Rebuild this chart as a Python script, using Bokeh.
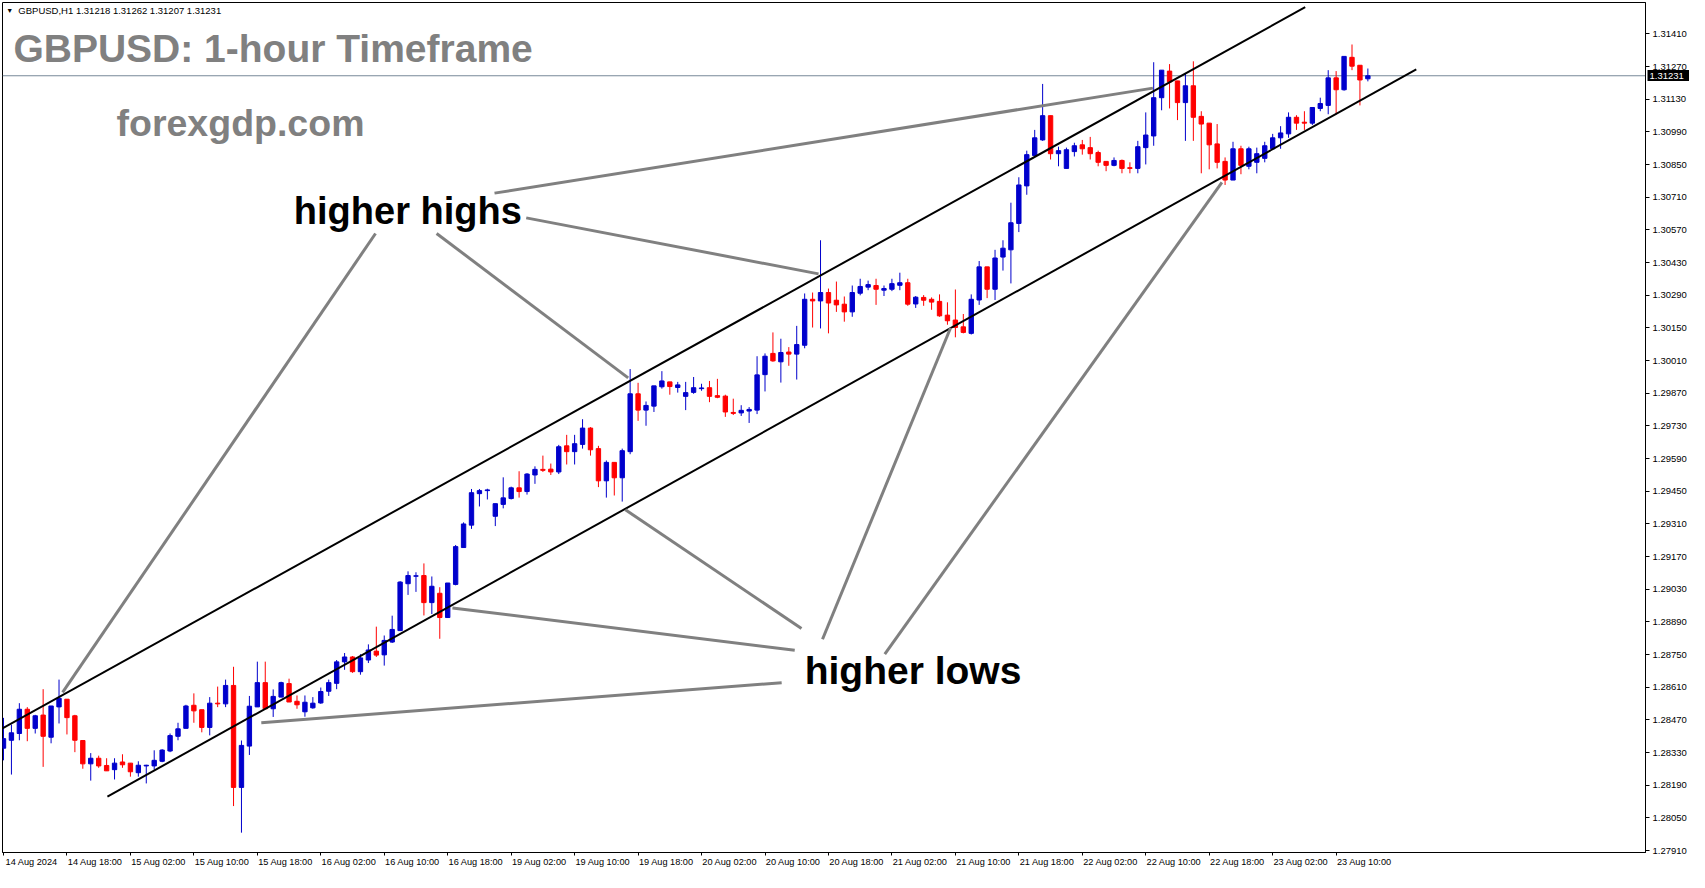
from bokeh.plotting import figure
from bokeh.models import (Range1d, FixedTicker, PrintfTickFormatter, Label, ColumnDataSource,
                          LinearAxis)
from bokeh.embed import file_html
from bokeh.resources import INLINE

# ---------------- data (GBPUSD H1, 14 Aug 10:00 .. 23 Aug 14:00) ----------------
opens = [
    1.28349, 1.28383, 1.28412, 1.28516, 1.28434, 1.28491, 1.28396, 1.28526, 1.28559, 1.28488,
    1.28382, 1.28282, 1.28306, 1.28275, 1.28257, 1.28290, 1.28285, 1.28244, 1.28273, 1.28273,
    1.28293, 1.28337, 1.28400, 1.28434, 1.28533, 1.28514, 1.28438, 1.28542, 1.28539, 1.28618,
    1.28181, 1.28358, 1.28526, 1.28630, 1.28518, 1.28568, 1.28626, 1.28550, 1.28505, 1.28522,
    1.28543, 1.28593, 1.28627, 1.28719, 1.28740, 1.28677, 1.28727, 1.28765, 1.28749, 1.28804,
    1.28853, 1.29054, 1.29086, 1.29089, 1.28973, 1.29013, 1.28909, 1.29051, 1.29209, 1.29305,
    1.29440, 1.29453, 1.29343, 1.29394, 1.29419, 1.29465, 1.29449, 1.29520, 1.29544, 1.29545,
    1.29533, 1.29645, 1.29620, 1.29651, 1.29721, 1.29633, 1.29495, 1.29574, 1.29508, 1.29620,
    1.29868, 1.29798, 1.29815, 1.29898, 1.29919, 1.29895, 1.29857, 1.29874, 1.29890, 1.29894,
    1.29860, 1.29858, 1.29788, 1.29786, 1.29794, 1.29798, 1.29950, 1.30041, 1.30005, 1.30047,
    1.30038, 1.30076, 1.30273, 1.30266, 1.30302, 1.30269, 1.30252, 1.30219, 1.30299, 1.30325,
    1.30332, 1.30312, 1.30316, 1.30333, 1.30344, 1.30253, 1.30281, 1.30273, 1.30264, 1.30205,
    1.30184, 1.30155, 1.30127, 1.30270, 1.30412, 1.30316, 1.30454, 1.30485, 1.30598, 1.30759,
    1.30889, 1.30956, 1.31060, 1.30897, 1.30834, 1.30906, 1.30935, 1.30923, 1.30902, 1.30864,
    1.30847, 1.30868, 1.30837, 1.30834, 1.30923, 1.30973, 1.31137, 1.31251, 1.31209, 1.31116,
    1.31188, 1.31057, 1.31028, 1.30939, 1.30864, 1.30784, 1.30918, 1.30843, 1.30860, 1.30877,
    1.30918, 1.30965, 1.30982, 1.31053, 1.31032, 1.31028, 1.31091, 1.31104, 1.31222, 1.31171,
    1.31310, 1.31276, 1.31218,
]
highs = [
    1.28479, 1.28450, 1.28542, 1.28525, 1.28492, 1.28602, 1.28530, 1.28643, 1.28559, 1.28492,
    1.28382, 1.28328, 1.28317, 1.28306, 1.28306, 1.28323, 1.28285, 1.28293, 1.28278, 1.28340,
    1.28345, 1.28412, 1.28458, 1.28535, 1.28584, 1.28514, 1.28568, 1.28613, 1.28643, 1.28698,
    1.28382, 1.28573, 1.28720, 1.28720, 1.28601, 1.28634, 1.28647, 1.28575, 1.28575, 1.28568,
    1.28609, 1.28643, 1.28727, 1.28757, 1.28744, 1.28752, 1.28794, 1.28870, 1.28832, 1.28917,
    1.29065, 1.29107, 1.29103, 1.29141, 1.29085, 1.29039, 1.29057, 1.29220, 1.29317, 1.29460,
    1.29460, 1.29461, 1.29397, 1.29510, 1.29470, 1.29536, 1.29528, 1.29557, 1.29603, 1.29569,
    1.29649, 1.29692, 1.29692, 1.29759, 1.29725, 1.29645, 1.29582, 1.29574, 1.29633, 1.29974,
    1.29915, 1.29835, 1.29902, 1.29965, 1.29919, 1.29919, 1.29919, 1.29940, 1.29911, 1.29923,
    1.29932, 1.29864, 1.29847, 1.29819, 1.29811, 1.30029, 1.30041, 1.30131, 1.30104, 1.30068,
    1.30159, 1.30298, 1.30302, 1.30526, 1.30319, 1.30349, 1.30285, 1.30332, 1.30361, 1.30353,
    1.30361, 1.30332, 1.30361, 1.30387, 1.30361, 1.30287, 1.30291, 1.30281, 1.30294, 1.30260,
    1.30315, 1.30210, 1.30294, 1.30437, 1.30412, 1.30485, 1.30526, 1.30687, 1.30796, 1.30910,
    1.30999, 1.31196, 1.31060, 1.30927, 1.30923, 1.30944, 1.30956, 1.30969, 1.30910, 1.30864,
    1.30881, 1.30872, 1.30860, 1.30952, 1.31074, 1.31289, 1.31255, 1.31281, 1.31209, 1.31239,
    1.31293, 1.31079, 1.31028, 1.31024, 1.30881, 1.30948, 1.30931, 1.30927, 1.30923, 1.30948,
    1.30982, 1.31015, 1.31074, 1.31062, 1.31079, 1.31095, 1.31137, 1.31255, 1.31251, 1.31314,
    1.31365, 1.31276, 1.31262,
]
lows = [
    1.28297, 1.28236, 1.28383, 1.28379, 1.28412, 1.28269, 1.28370, 1.28455, 1.28408, 1.28332,
    1.28261, 1.28210, 1.28265, 1.28252, 1.28215, 1.28265, 1.28227, 1.28227, 1.28198, 1.28257,
    1.28289, 1.28332, 1.28383, 1.28434, 1.28458, 1.28417, 1.28404, 1.28525, 1.28525, 1.28101,
    1.27987, 1.28320, 1.28526, 1.28518, 1.28483, 1.28568, 1.28547, 1.28518, 1.28484, 1.28518,
    1.28539, 1.28573, 1.28602, 1.28685, 1.28672, 1.28664, 1.28714, 1.28740, 1.28703, 1.28800,
    1.28853, 1.29006, 1.29019, 1.28918, 1.28924, 1.28818, 1.28907, 1.29047, 1.29209, 1.29289,
    1.29385, 1.29415, 1.29301, 1.29377, 1.29415, 1.29423, 1.29436, 1.29482, 1.29533, 1.29520,
    1.29524, 1.29565, 1.29565, 1.29633, 1.29603, 1.29468, 1.29423, 1.29432, 1.29406, 1.29609,
    1.29752, 1.29731, 1.29790, 1.29890, 1.29864, 1.29873, 1.29798, 1.29868, 1.29881, 1.29832,
    1.29849, 1.29769, 1.29777, 1.29773, 1.29743, 1.29781, 1.29878, 1.30005, 1.29916, 1.29988,
    1.29929, 1.30063, 1.30152, 1.30148, 1.30127, 1.30219, 1.30177, 1.30198, 1.30290, 1.30312,
    1.30249, 1.30287, 1.30308, 1.30312, 1.30245, 1.30236, 1.30245, 1.30228, 1.30198, 1.30164,
    1.30110, 1.30127, 1.30122, 1.30249, 1.30278, 1.30270, 1.30396, 1.30341, 1.30561, 1.30721,
    1.30889, 1.30952, 1.30872, 1.30843, 1.30834, 1.30885, 1.30893, 1.30872, 1.30843, 1.30822,
    1.30843, 1.30813, 1.30813, 1.30813, 1.30851, 1.30931, 1.31083, 1.31091, 1.31041, 1.30952,
    1.30952, 1.30813, 1.30830, 1.30834, 1.30763, 1.30784, 1.30809, 1.30830, 1.30813, 1.30860,
    1.30918, 1.30918, 1.30965, 1.30999, 1.30999, 1.31020, 1.31079, 1.31066, 1.31066, 1.31167,
    1.31255, 1.31104, 1.31207,
]
closes = [
    1.28390, 1.28415, 1.28516, 1.28434, 1.28488, 1.28400, 1.28530, 1.28563, 1.28480, 1.28383,
    1.28282, 1.28306, 1.28273, 1.28252, 1.28285, 1.28278, 1.28248, 1.28276, 1.28276, 1.28297,
    1.28341, 1.28403, 1.28432, 1.28530, 1.28509, 1.28438, 1.28542, 1.28539, 1.28618, 1.28181,
    1.28361, 1.28529, 1.28630, 1.28518, 1.28571, 1.28630, 1.28547, 1.28535, 1.28546, 1.28542,
    1.28592, 1.28630, 1.28719, 1.28740, 1.28677, 1.28736, 1.28770, 1.28748, 1.28811, 1.28858,
    1.29061, 1.29089, 1.29088, 1.28973, 1.29043, 1.28909, 1.29057, 1.29213, 1.29310, 1.29444,
    1.29453, 1.29456, 1.29397, 1.29422, 1.29465, 1.29449, 1.29524, 1.29544, 1.29540, 1.29533,
    1.29641, 1.29620, 1.29654, 1.29721, 1.29628, 1.29495, 1.29574, 1.29508, 1.29624, 1.29868,
    1.29798, 1.29818, 1.29902, 1.29923, 1.29899, 1.29906, 1.29873, 1.29894, 1.29893, 1.29857,
    1.29853, 1.29790, 1.29784, 1.29797, 1.29801, 1.29949, 1.30029, 1.30009, 1.30045, 1.30038,
    1.30079, 1.30273, 1.30266, 1.30302, 1.30257, 1.30249, 1.30219, 1.30302, 1.30328, 1.30336,
    1.30316, 1.30319, 1.30340, 1.30344, 1.30252, 1.30282, 1.30269, 1.30261, 1.30202, 1.30181,
    1.30152, 1.30131, 1.30273, 1.30412, 1.30316, 1.30450, 1.30492, 1.30601, 1.30763, 1.30893,
    1.30965, 1.31060, 1.30897, 1.30910, 1.30914, 1.30931, 1.30918, 1.30897, 1.30860, 1.30847,
    1.30868, 1.30834, 1.30834, 1.30927, 1.30977, 1.31137, 1.31255, 1.31205, 1.31116, 1.31188,
    1.31053, 1.31024, 1.30935, 1.30860, 1.30784, 1.30918, 1.30847, 1.30918, 1.30897, 1.30931,
    1.30965, 1.30986, 1.31053, 1.31028, 1.31028, 1.31095, 1.31112, 1.31222, 1.31171, 1.31314,
    1.31272, 1.31213, 1.31231,
]
bar_index = list(range(len(closes)))

y_ticks = [1.27910, 1.28050, 1.28190, 1.28330, 1.28470, 1.28610, 1.28750, 1.28890,
           1.29030, 1.29170, 1.29310, 1.29450, 1.29590, 1.29730, 1.29870, 1.30010,
           1.30150, 1.30290, 1.30430, 1.30570, 1.30710, 1.30850, 1.30990, 1.31130,
           1.31270, 1.31410]
x_tick_bars = [0, 8, 16, 24, 32, 40, 48, 56, 64, 72, 80, 88, 96, 104, 112, 120,
               128, 136, 144, 152, 160, 168]
x_tick_labels = ["14 Aug 2024", "14 Aug 18:00", "15 Aug 02:00", "15 Aug 10:00",
                 "15 Aug 18:00", "16 Aug 02:00", "16 Aug 10:00", "16 Aug 18:00",
                 "19 Aug 02:00", "19 Aug 10:00", "19 Aug 18:00", "20 Aug 02:00",
                 "20 Aug 10:00", "20 Aug 18:00", "21 Aug 02:00", "21 Aug 10:00",
                 "21 Aug 18:00", "22 Aug 02:00", "22 Aug 10:00", "22 Aug 18:00",
                 "23 Aug 02:00", "23 Aug 10:00"]

last_price = 1.31231
header_text = "GBPUSD,H1  1.31218 1.31262 1.31207 1.31231"

# channel lines (bar index, price)
upper_channel_x = [-1.0, 164.1]
upper_channel_y = [1.28418, 1.31525]
lower_channel_x = [13.1, 178.1]
lower_channel_y = [1.28142, 1.31258]

# pointer lines
pointer_x0 = [46.9, 54.6, 65.9, 61.9, 100.6, 99.75, 98.1, 103.25, 111.1]
pointer_y0 = [1.30555, 1.30555, 1.30622, 1.30728, 1.28862, 1.28769, 1.28630, 1.28816, 1.28752]
pointer_x1 = [7.45, 78.75, 102.75, 144.9, 78.4, 56.6, 32.5, 119.4, 153.6]
pointer_y1 = [1.28588, 1.29936, 1.30382, 1.31178, 1.29371, 1.28950, 1.28458, 1.30151, 1.30774]

X_START, X_END = -0.125, 207.0
Y_START, Y_END = 1.27902, 1.31545
LABEL_SHIFT = 3.55   # centre of a left-aligned date label, in bars

BULL = "#0000CC"
BEAR = "#FF0000"

colors = [BULL if c >= o else BEAR for o, c in zip(opens, closes)]
src = ColumnDataSource(dict(
    x=bar_index, open=opens, high=highs, low=lows, close=closes,
    top=[max(o, c) for o, c in zip(opens, closes)],
    bottom=[min(o, c) for o, c in zip(opens, closes)],
    color=colors,
))

W, H = 1689, 872
p = figure(width=W, height=H,
           x_range=Range1d(X_START, X_END), y_range=Range1d(Y_START, Y_END),
           y_axis_location="right", output_backend="svg", toolbar_location=None,
           min_border_left=2, min_border_top=2, min_border_right=44, min_border_bottom=20)
p.xgrid.visible = False
p.ygrid.visible = False
p.background_fill_color = "white"
p.border_fill_color = "white"
p.outline_line_color = "black"
p.outline_line_width = 1
p.outline_line_alpha = 1.0

ya = p.yaxis[0]
ya.ticker = FixedTicker(ticks=y_ticks)
ya.formatter = PrintfTickFormatter(format="%.5f")
ya.axis_line_color = "black"
ya.major_tick_line_color = "black"
ya.major_tick_out = 4
ya.major_tick_in = 0
ya.minor_tick_out = 0
ya.minor_tick_in = 0
ya.major_label_standoff = 3
ya.major_label_text_font = "Liberation Sans"
ya.major_label_text_font_size = "9.5px"
ya.major_label_text_color = "black"

# price tag: an extra right-hand axis whose single tick is drawn as a thick black bar
tag_axis = LinearAxis(ticker=FixedTicker(ticks=[last_price]),
                      formatter=PrintfTickFormatter(format="%.5f"),
                      axis_line_color=None,
                      major_tick_line_color="black", major_tick_line_width=11,
                      major_tick_out=0, major_tick_in=42,
                      minor_tick_out=0, minor_tick_in=0,
                      major_label_standoff=-40,
                      major_label_text_font="Liberation Sans",
                      major_label_text_font_size="9.5px",
                      major_label_text_color="white")
p.add_layout(tag_axis, "right")

# x axis 1 (next to the frame): tick marks at the bar of each date label
xa = p.xaxis[0]
xa.ticker = FixedTicker(ticks=x_tick_bars)
xa.major_label_overrides = {t: "" for t in x_tick_bars}
xa.major_label_text_font_size = "0px"
xa.major_label_standoff = 0
xa.axis_line_color = "black"
xa.major_tick_line_color = "black"
xa.major_tick_out = 3
xa.major_tick_in = 0
xa.minor_tick_out = 0
xa.minor_tick_in = 0

# x axis 2: the date labels, left-aligned at their bar
x_label_pos = [b + LABEL_SHIFT for b in x_tick_bars]
xlab = LinearAxis(ticker=FixedTicker(ticks=x_label_pos),
                  major_label_overrides={t: s for t, s in zip(x_label_pos, x_tick_labels)},
                  axis_line_color=None, major_tick_out=0, major_tick_in=0,
                  minor_tick_out=0, minor_tick_in=0, major_label_standoff=1,
                  major_label_text_font="Liberation Sans",
                  major_label_text_font_size="9.2px", major_label_text_color="black")
p.add_layout(xlab, "below")

# current bid line
p.line([X_START, X_END], [last_price, last_price], line_color="#778899", line_width=1)

# candles
p.segment(x0="x", y0="low", x1="x", y1="high", line_color="color", line_width=1, source=src)
p.vbar(x="x", top="top", bottom="bottom", width=0.55, fill_color="color",
       line_color="color", line_width=1, source=src)

# channel
p.line(upper_channel_x, upper_channel_y, line_color="black", line_width=2)
p.line(lower_channel_x, lower_channel_y, line_color="black", line_width=2)

# pointers
p.segment(x0=pointer_x0, y0=pointer_y0, x1=pointer_x1, y1=pointer_y1,
          line_color="#808080", line_width=3)

def add_label(x, y, text, size_px, color, bold=True):
    p.add_layout(Label(x=x, y=y, text=text, text_font="Liberation Sans",
                       text_font_size=f"{size_px}px", y_offset=round(0.37 * size_px),
                       text_color=color, text_font_style="bold" if bold else "normal",
                       text_baseline="alphabetic", text_align="left"))

add_label(0.35, 1.31497, "\u25bc", 7, "black", bold=False)
add_label(1.875, 1.31494, header_text, 9.5, "black", bold=False)
add_label(1.25, 1.31288, "GBPUSD: 1-hour Timeframe", 39, "#808080")
add_label(14.25, 1.30968, "forexgdp.com", 37.5, "#808080")
add_label(36.6, 1.30593, "higher highs", 38, "black")
add_label(101.0, 1.28622, "higher lows", 39, "black")

open("out.html", "w").write(file_html(p, INLINE))
